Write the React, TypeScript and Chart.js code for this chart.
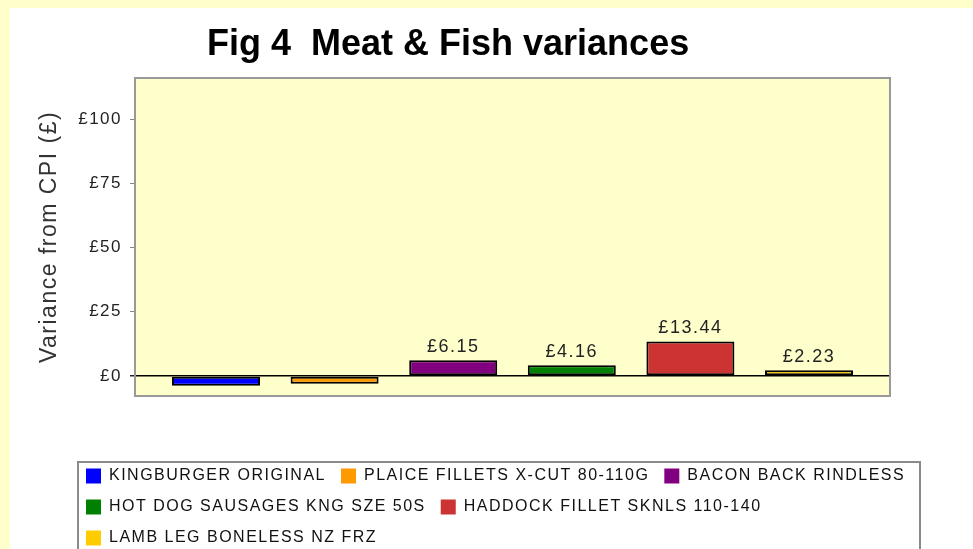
import React, { useEffect, useRef } from 'react';
import { Chart, registerables } from 'chart.js';

Chart.register(...registerables);

// ---- data ----
const CHART_TITLE = 'Fig 4  Meat & Fish variances';
const Y_TITLE = 'Variance from CPI (£)';
const ITEMS = [
  'KINGBURGER ORIGINAL',
  'PLAICE FILLETS X-CUT 80-110G',
  'BACON BACK RINDLESS',
  'HOT DOG SAUSAGES KNG SZE 50S',
  'HADDOCK FILLET SKNLS 110-140',
  'LAMB LEG BONELESS NZ FRZ',
];
const VARIANCES = [-3.85, -3.05, 6.15, 4.16, 13.44, 2.23];
const COLORS = ['#0000FF', '#FF9900', '#800080', '#008000', '#CC3333', '#FFCC00'];
const Y_TICKS = [0, 25, 50, 75, 100];
const Y_MIN = -7.8;
const Y_MAX = 116;

// ---- styling ----
const FONT = "'Liberation Sans', Arial, sans-serif";
const PAGE_BG = '#FFFFCC';
const PLOT_BG = '#FFFFCC';
const SPACING = '1.5px';
const W = 963;
const H = 541;
const LEGEND_H = 153;
const LEG_LEFT = 61;
const LEG_RIGHT = 935;
const LEG_TOP = 445;
const LEG_FRAME = { left: 68, right: 910, top: 454 };

const layoutPlugin = {
  id: 'layoutTweaks',
  beforeLayout(chart: any) {
    chart.ctx.letterSpacing = SPACING;
    const lg = chart.legend;
    if (lg && !lg.__patched) {
      const fit = lg.fit.bind(lg);
      lg.fit = () => {
        fit();
        lg.height = LEGEND_H;
      };
      lg.__patched = true;
    }
  },
  afterLayout(chart: any) {
    const lg = chart.legend;
    if (lg) {
      lg.left = LEG_LEFT;
      lg.right = LEG_RIGHT;
      lg.width = LEG_RIGHT - LEG_LEFT;
      lg.top = LEG_TOP;
      lg.bottom = LEG_TOP + lg.height;
    }
  },
  beforeDraw(chart: any) {
    const ctx = chart.ctx;
    ctx.letterSpacing = SPACING;
    const a = chart.chartArea;
    ctx.save();
    ctx.fillStyle = PLOT_BG;
    ctx.fillRect(a.left, a.top, a.right - a.left, a.bottom - a.top);
    // legend frame
    ctx.strokeStyle = '#8a8a8a';
    ctx.lineWidth = 2;
    ctx.strokeRect(LEG_FRAME.left, LEG_FRAME.top, LEG_FRAME.right - LEG_FRAME.left, H + 20 - LEG_FRAME.top);
    ctx.restore();
  },
  afterDatasetsDraw(chart: any) {
    const ctx = chart.ctx;
    const a = chart.chartArea;
    ctx.save();
    // value labels
    ctx.font = `18px ${FONT}`;
    ctx.fillStyle = '#222';
    ctx.textAlign = 'center';
    ctx.textBaseline = 'alphabetic';
    chart.data.datasets.forEach((ds: any, i: number) => {
      const v = ds.data[0];
      const el = chart.getDatasetMeta(i).data[0];
      if (el && v > 0) {
        ctx.fillText('£' + v.toFixed(2), el.x, el.y - 8);
      }
    });
    // plot frame
    ctx.strokeStyle = '#999';
    ctx.lineWidth = 2;
    ctx.strokeRect(a.left, a.top, a.right - a.left, a.bottom - a.top);
    ctx.restore();
  },
  afterDraw(chart: any) {
    const ctx = chart.ctx;
    ctx.save();
    ctx.letterSpacing = '0px';
    ctx.font = `bold 36px ${FONT}`;
    ctx.fillStyle = '#000';
    ctx.textAlign = 'left';
    ctx.textBaseline = 'alphabetic';
    ctx.fillText(CHART_TITLE, 197, 47);
    ctx.restore();
  },
};

export default function App() {
  const ref = useRef<HTMLCanvasElement>(null);

  useEffect(() => {
    document.body.style.margin = '0';
    document.body.style.background = PAGE_BG;
    document.body.style.overflow = 'hidden';
    const canvas = ref.current;
    if (!canvas) return;
    const chart = new Chart(canvas, {
      type: 'bar',
      data: {
        labels: [''],
        datasets: ITEMS.map((name, i) => ({
          label: name,
          data: [VARIANCES[i]],
          backgroundColor: COLORS[i],
          borderColor: '#000',
          borderWidth: 2,
          borderSkipped: false,
          barPercentage: 0.742,
          categoryPercentage: 0.9425,
        })),
      },
      options: {
        animation: false,
        responsive: true,
        maintainAspectRatio: false,
        layout: { padding: { top: 70, right: 83, left: 0, bottom: 0 } },
        scales: {
          x: { display: false },
          y: {
            min: Y_MIN,
            max: Y_MAX,
            afterBuildTicks: (s: any) => {
              s.ticks = Y_TICKS.map((v) => ({ value: v }));
            },
            afterFit: (s: any) => {
              s.width = 125;
            },
            border: { display: false },
            grid: {
              drawOnChartArea: true,
              color: (c: any) => (c.tick && c.tick.value === 0 ? '#000' : 'rgba(0,0,0,0)'),
              tickColor: (c: any) => (c.tick && c.tick.value === 0 ? '#222' : '#888'),
              tickLength: 5,
              lineWidth: (c: any) => (c.tick && c.tick.value === 0 ? 1.5 : 1),
            },
            ticks: {
              callback: (v: any) => '£' + v,
              color: '#222',
              padding: 8,
              font: { size: 17, family: FONT },
            },
            title: {
              display: true,
              text: Y_TITLE,
              color: '#333',
              font: { size: 23, family: FONT },
              padding: { top: 26, bottom: 0 },
            },
          },
        },
        plugins: {
          title: { display: false },
          tooltip: { enabled: false },
          legend: {
            display: true,
            position: 'bottom',
            align: 'start',
            labels: {
              boxWidth: 15,
              boxHeight: 15,
              padding: 15,
              color: '#111',
              font: { size: 16, family: FONT },
              generateLabels: (ch: any) =>
                Chart.defaults.plugins.legend.labels.generateLabels(ch).map((it: any) => ({
                  ...it,
                  lineWidth: 0,
                  strokeStyle: it.fillStyle,
                })),
            },
          },
        },
      },
      plugins: [layoutPlugin],
    } as any);
    return () => chart.destroy();
  }, []);

  return (
    <div style={{ position: 'relative', width: W, height: H, marginLeft: 10, marginTop: 8, background: '#fff' }}>
      <canvas ref={ref} />
    </div>
  );
}
